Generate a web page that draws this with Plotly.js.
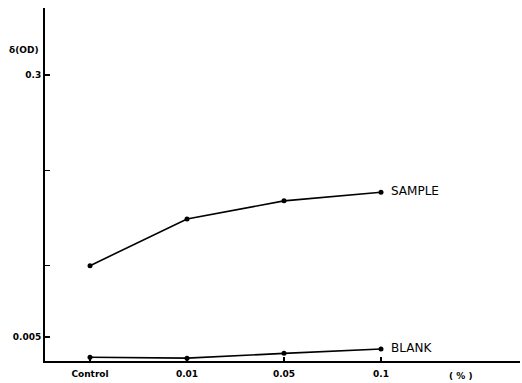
<!DOCTYPE html>
<html>
<head>
<meta charset="utf-8">
<script src="https://cdn.plot.ly/plotly-3.0.1.min.js"></script>
<style>html,body{margin:0;padding:0;background:#fff;}#chart{width:522px;height:383px;}</style>
</head>
<body>
<div id="chart"></div>
<script>
const categories = ["Control", "0.01", "0.05", "0.1"];
const sampleValues = [0.100, 0.149, 0.168, 0.177];
const blankValues = [0.004, 0.003, 0.008, 0.0126];
const yTickVals = [0.025, 0.1, 0.2, 0.3];
const yTickText = ["0.005", "", "", "0.3"];

const lineStyle = {color: "#000", width: 1.6};
const markerStyle = {color: "#000", size: 5};

const traces = [
  {x: categories, y: sampleValues, type: "scatter", mode: "lines+markers", line: lineStyle, marker: markerStyle, name: "SAMPLE", cliponaxis: false},
  {x: categories, y: blankValues, type: "scatter", mode: "lines+markers", line: lineStyle, marker: markerStyle, name: "BLANK", cliponaxis: false}
];

const layout = {
  width: 522, height: 383,
  margin: {l: 45, r: 2, t: 8, b: 22},
  paper_bgcolor: "#fff", plot_bgcolor: "#fff",
  showlegend: false,
  font: {family: "DejaVu Sans", color: "#000"},
  xaxis: {
    type: "category",
    range: [-0.464, 4.433],
    showgrid: false, zeroline: false,
    showline: true, linecolor: "#000", linewidth: 2,
    ticks: "inside", ticklen: 4, tickwidth: 1.5, tickcolor: "#000",
    ticklabelstandoff: 3,
    tickfont: {family: "DejaVu Sans", size: 9, color: "#000", weight: "bold"},
    fixedrange: true
  },
  yaxis: {
    range: [0, 0.3703],
    showgrid: false, zeroline: false,
    showline: true, linecolor: "#000", linewidth: 2,
    tickmode: "array", tickvals: yTickVals, ticktext: yTickText,
    ticks: "inside", ticklen: 5, tickwidth: 1.5, tickcolor: "#000",
    tickfont: {family: "DejaVu Sans", size: 9, color: "#000", weight: "bold"},
    fixedrange: true
  },
  annotations: [
    {x: sampleValues.length - 1, y: sampleValues[sampleValues.length - 1], xref: "x", yref: "y", text: "SAMPLE", showarrow: false, xanchor: "left", xshift: 8, yshift: 1, font: {family: "DejaVu Sans", size: 12, color: "#000"}},
    {x: blankValues.length - 1, y: blankValues[blankValues.length - 1], xref: "x", yref: "y", text: "BLANK", showarrow: false, xanchor: "left", xshift: 8, yshift: 1, font: {family: "DejaVu Sans", size: 12, color: "#000"}},
    {x: 0, y: 1, xref: "paper", yref: "paper", text: "δ(OD)", showarrow: false, xanchor: "right", yanchor: "middle", xshift: -4, yshift: -42, font: {family: "DejaVu Sans", size: 9, color: "#000", weight: "bold"}},
    {x: 3.82, y: 0, xref: "x", yref: "paper", text: "( % )", showarrow: false, xanchor: "center", yanchor: "top", yshift: -8, font: {family: "DejaVu Sans", size: 9, color: "#000", weight: "bold"}}
  ]
};

Plotly.newPlot("chart", traces, layout, {displayModeBar: false, staticPlot: true});
</script>
</body>
</html>
